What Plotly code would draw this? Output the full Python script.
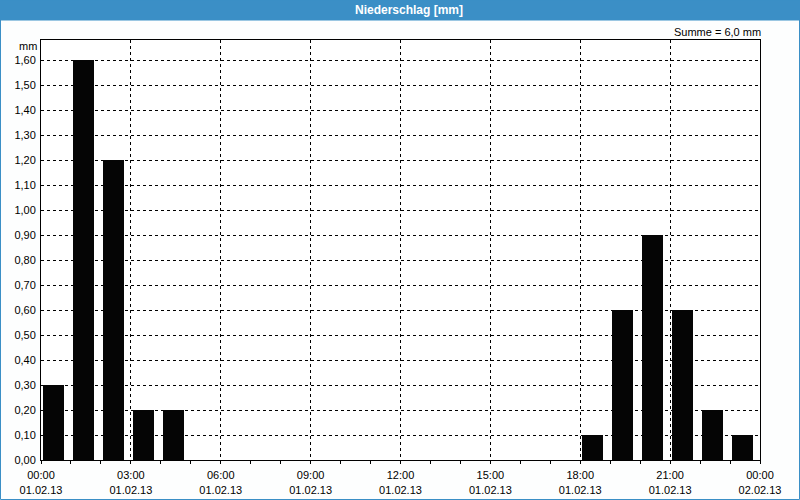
import plotly.graph_objects as go

hours = [0, 1, 2, 3, 4, 18, 19, 20, 21, 22, 23]
values = [0.30, 1.60, 1.20, 0.20, 0.20, 0.10, 0.60, 0.90, 0.60, 0.20, 0.10]
tick_hours = [0, 3, 6, 9, 12, 15, 18, 21, 24]
tick_labels = ["00:00<br>01.02.13", "03:00<br>01.02.13", "06:00<br>01.02.13",
               "09:00<br>01.02.13", "12:00<br>01.02.13", "15:00<br>01.02.13",
               "18:00<br>01.02.13", "21:00<br>01.02.13", "00:00<br>02.02.13"]
y_ticks = [round(0.1 * i, 2) for i in range(17)]
title_text = "Niederschlag [mm]"
sum_text = "Summe = 6,0 mm"

BLUE = "#3b8fc6"
FONT = "Liberation Sans"

fig = go.Figure()
fig.add_trace(go.Bar(
    x=[h + 0.42 for h in hours], y=values, width=0.7,
    marker=dict(color="#050505", line=dict(width=0)),
    hoverinfo="skip",
))

W, H = 800, 500
ml, mr, mt, mb = 41, 40, 40, 40
pw, ph = W - ml - mr, H - mt - mb

def px_x(x):
    return (x - ml) / pw

def px_y(y):
    return (H - mb - y) / ph

fig.update_layout(
    width=W, height=H,
    margin=dict(l=ml, r=mr, t=mt, b=mb, pad=0, autoexpand=False),
    paper_bgcolor="#fdfefe", plot_bgcolor="#ffffff",
    separators=",.",
    showlegend=False,
    bargap=0,
    font=dict(family=FONT, size=11, color="#000000"),
    xaxis=dict(
        range=[0, 24], tickmode="array", tickvals=tick_hours, ticktext=tick_labels,
        showgrid=True, gridcolor="#000000", gridwidth=1, griddash="3px,3px",
        showline=True, linecolor="#000000", linewidth=1, mirror=True,
        ticks="outside", ticklen=3, tickcolor="#000000", ticklabelstandoff=2,
        minor=dict(dtick=1, tick0=0, ticks="outside", ticklen=3, tickcolor="#000000", showgrid=False),
        zeroline=False, fixedrange=True, automargin=False,
        tickfont=dict(family=FONT, size=11),
    ),
    yaxis=dict(
        range=[0, 1.68], tickmode="array", tickvals=y_ticks,
        tickformat=".2f",
        showgrid=True, gridcolor="#000000", gridwidth=1, griddash="3px,3px",
        showline=True, linecolor="#000000", linewidth=1, mirror=True,
        ticks="outside", ticklen=2, tickcolor="rgba(0,0,0,0)",
        zeroline=False, fixedrange=True, automargin=False,
        tickfont=dict(family=FONT, size=11),
    ),
    shapes=[
        dict(type="rect", xref="paper", yref="paper",
             x0=px_x(0), x1=px_x(W), y0=px_y(20.5), y1=px_y(0),
             fillcolor=BLUE, line=dict(width=0), layer="above"),
        dict(type="rect", xref="paper", yref="paper",
             x0=px_x(0.5), x1=px_x(W - 0.5), y0=px_y(H - 0.5), y1=px_y(0),
             fillcolor="rgba(0,0,0,0)", line=dict(color=BLUE, width=1), layer="above"),
    ],
    annotations=[
        dict(text="<b>" + title_text + "</b>", xref="paper", yref="paper",
             x=px_x(409), y=px_y(10), xanchor="center", yanchor="middle",
             showarrow=False, font=dict(family=FONT, size=12, color="#ffffff")),
        dict(text=sum_text, xref="paper", yref="paper",
             x=px_x(763), y=px_y(32), xanchor="right", yanchor="middle",
             showarrow=False, font=dict(family=FONT, size=11)),
        dict(text="mm", xref="paper", yref="paper",
             x=px_x(39), y=px_y(46), xanchor="right", yanchor="middle",
             showarrow=False, font=dict(family=FONT, size=11)),
    ],
)

fig.write_html("out.html")
